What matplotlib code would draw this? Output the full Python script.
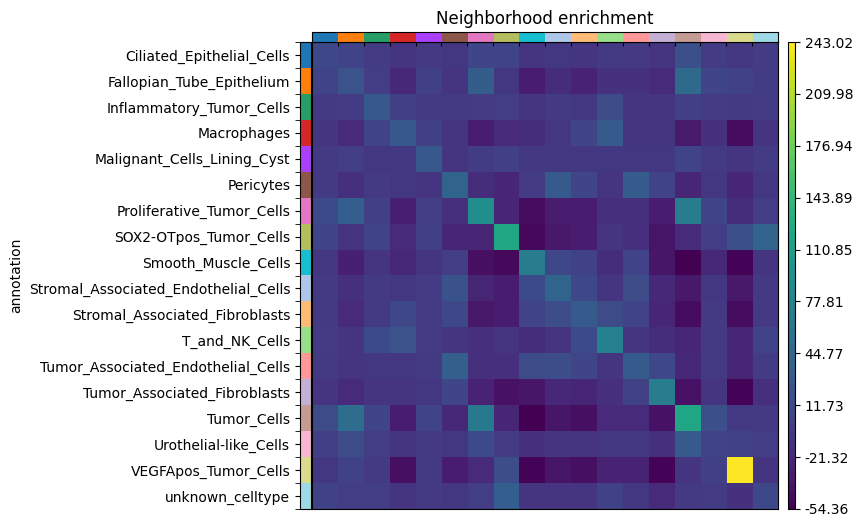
import numpy as np
import matplotlib
matplotlib.use("Agg")
import matplotlib.pyplot as plt
from matplotlib.colors import ListedColormap

labels = [
    "Ciliated_Epithelial_Cells", "Fallopian_Tube_Epithelium", "Inflammatory_Tumor_Cells",
    "Macrophages", "Malignant_Cells_Lining_Cyst", "Pericytes", "Proliferative_Tumor_Cells",
    "SOX2-OTpos_Tumor_Cells", "Smooth_Muscle_Cells", "Stromal_Associated_Endothelial_Cells",
    "Stromal_Associated_Fibroblasts", "T_and_NK_Cells", "Tumor_Associated_Endothelial_Cells",
    "Tumor_Associated_Fibroblasts", "Tumor_Cells", "Urothelial-like_Cells",
    "VEGFApos_Tumor_Cells", "unknown_celltype",
]

cluster_colors = [
    "#1f77b4", "#ff7f0e", "#279e68", "#d62728", "#aa40fc", "#8c564b",
    "#e377c2", "#b5bd61", "#17becf", "#aec7e8", "#ffbb78", "#98df8a",
    "#ff9896", "#c5b0d5", "#c49c94", "#f7b6d2", "#dbdb8d", "#9edae5",
]

# z-scores
zscore = np.array([
    [10, 5, -3, -8, -5, -6, 8, 5, -8, -6, -8, -4, -5, -8, 18, -1, -6, -2],
    [5, 22, 0, -20, 2, -10, 33, -6, -30, -15, -25, -12, -12, -18, 48, 8, 3, -2],
    [-4, -2, 28, 2, -4, -4, -2, 0, -8, -4, -6, 15, -8, -10, 2, -2, -4, -2],
    [-8, -18, 5, 28, 2, -8, -30, -18, -16, -6, 8, 30, -8, -8, -33, -12, -45, -8],
    [-4, 0, -6, -6, 28, -8, -2, 2, -6, -6, -6, -6, -6, -6, 5, -4, -10, -2],
    [-4, -14, -4, -6, -8, 42, -16, -22, -2, 30, 8, -10, 32, 5, -22, -6, -22, -6],
    [12, 35, 2, -28, 0, -14, 92, -22, -45, -30, -32, -14, -14, -30, 70, 8, -16, 0],
    [5, -8, 5, -18, 2, -24, -22, 124, -48, -34, -30, -8, -14, -38, -18, 0, 18, 40],
    [-6, -28, -10, -20, -8, 0, -42, -48, 70, 10, 4, -16, 6, -36, -54.358, -20, -52, -10],
    [-4, -14, -4, -6, -2, 20, -24, -30, 12, 42, 10, -10, 14, -20, -34, -6, -34, -4],
    [-4, -18, -4, 10, -2, 10, -34, -32, 5, 16, 30, 14, 6, -22, -44, -4, -44, -4],
    [-2, -8, 12, 22, -2, -8, -14, -10, -16, -10, 12, 76, -8, -16, -22, -4, -22, 5],
    [-4, -10, -6, -6, -4, 36, -14, -14, 14, 16, 8, -8, 30, 10, -20, -4, -22, -2],
    [-10, -18, -10, -8, -6, 8, -26, -40, -36, -20, -24, -14, 4, 72, -40, -10, -52, -14],
    [15, 52, 8, -30, 6, -20, 66, -22, -54, -36, -42, -18, -18, -40, 122, 18, -4, -4],
    [2, 14, 0, -10, -4, -6, 12, -2, -12, -8, -8, -6, -6, -14, 30, 5, 4, 0],
    [-6, 4, -4, -42, -4, -30, -18, 16, -52, -38, -42, -26, -26, -52, -10, 2, 243.02, -10],
    [4, 0, 0, -8, -4, -6, 0, 34, -10, -8, -8, 4, -6, -18, -4, -2, -12, 10],
])

n = len(labels)
vmin, vmax = zscore.min(), zscore.max()

fig = plt.figure(figsize=(8.6, 5.27), dpi=100)

ax = fig.add_axes([0.3628, 0.0342, 0.542, 0.886])
im = ax.imshow(zscore, cmap="viridis", vmin=vmin, vmax=vmax, aspect="auto",
               interpolation="nearest")
ax.set_xticks([])
ax.set_yticks([])
ax.set_title("Neighborhood enrichment", fontsize=12, pad=13)

cmap_clusters = ListedColormap(cluster_colors)

# left colour strip with the labels
ax_row = fig.add_axes([0.3488, 0.0342, 0.0128, 0.886])
ax_row.imshow(np.arange(n).reshape(-1, 1), cmap=cmap_clusters, aspect="auto",
              interpolation="nearest")
ax_row.set_xticks([])
ax_row.set_yticks(np.arange(n))
ax_row.set_yticklabels(labels, fontsize=10)
ax_row.set_yticks(np.arange(n + 1) - 0.5, minor=True)
ax_row.tick_params(axis="y", which="minor", length=3.5)
ax_row.set_ylabel("annotation", fontsize=10)

# top colour strip
ax_col = fig.add_axes([0.3628, 0.9203, 0.542, 0.019])
ax_col.imshow(np.arange(n).reshape(1, -1), cmap=cmap_clusters, aspect="auto",
              interpolation="nearest")
ax_col.set_yticks([])
ax_col.set_xticks(np.arange(1, n) - 0.5)
ax_col.set_xticklabels([])
ax_col.tick_params(axis="x", length=3)

# colorbar
cax = fig.add_axes([0.9163, 0.0342, 0.0081, 0.886])
cb = fig.colorbar(im, cax=cax)
ticks = np.linspace(vmin, vmax, 10)
cb.set_ticks(ticks)
cb.set_ticklabels([f"{t:.2f}" for t in ticks])
cb.ax.tick_params(labelsize=10)

fig.savefig("out.png", dpi=100)
